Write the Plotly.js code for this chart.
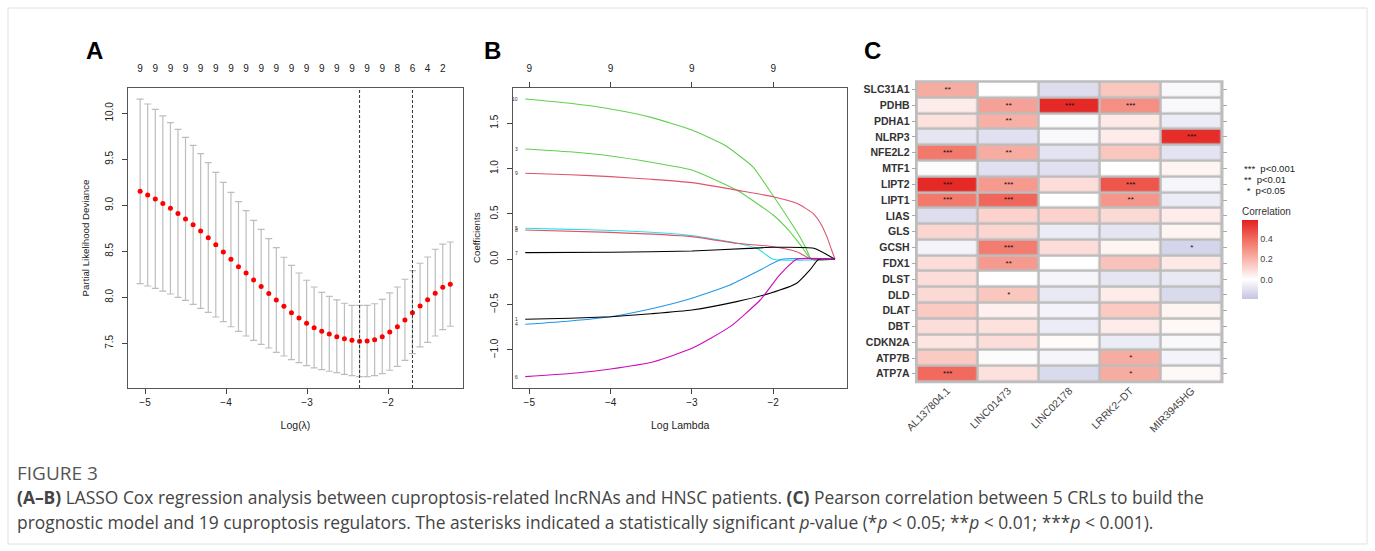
<!DOCTYPE html>
<html><head><meta charset="utf-8">
<script src="https://cdn.plot.ly/plotly-3.0.1.min.js"></script>
<style>html,body{margin:0;padding:0;background:#fff;}#chart{width:1375px;height:551px;}</style>
</head><body><div id="chart"></div>
<script>
// ---------- Panel A: cross-validation curve ----------
const logLambdaA = [-5.060,-4.967,-4.873,-4.780,-4.686,-4.593,-4.500,-4.406,-4.313,-4.219,-4.126,-4.033,-3.939,-3.846,-3.752,-3.659,-3.566,-3.472,-3.379,-3.285,-3.192,-3.099,-3.005,-2.912,-2.818,-2.725,-2.632,-2.538,-2.445,-2.351,-2.258,-2.165,-2.071,-1.978,-1.884,-1.791,-1.698,-1.604,-1.511,-1.417,-1.324,-1.231];
const devianceMean = [9.152,9.112,9.068,9.020,8.967,8.911,8.851,8.788,8.720,8.648,8.572,8.492,8.413,8.333,8.264,8.188,8.116,8.040,7.971,7.902,7.833,7.775,7.717,7.670,7.630,7.601,7.572,7.550,7.532,7.521,7.524,7.539,7.572,7.623,7.680,7.753,7.833,7.905,7.974,8.043,8.109,8.141];
const devianceUpper = [10.155,10.101,10.043,9.971,9.898,9.826,9.739,9.652,9.561,9.463,9.358,9.250,9.141,9.040,8.941,8.836,8.739,8.637,8.539,8.435,8.348,8.264,8.185,8.112,8.054,8.010,7.971,7.935,7.913,7.913,7.913,7.930,7.978,8.047,8.112,8.196,8.290,8.370,8.438,8.522,8.579,8.601];
const devianceLower = [8.148,8.123,8.098,8.068,8.036,8.000,7.967,7.924,7.880,7.837,7.786,7.735,7.680,7.630,7.579,7.532,7.489,7.449,7.402,7.362,7.322,7.289,7.257,7.232,7.213,7.196,7.181,7.163,7.148,7.137,7.137,7.148,7.170,7.207,7.250,7.315,7.387,7.460,7.511,7.579,7.648,7.685];
const nonzeroTopA = ['9','9','9','9','9','9','9','9','9','9','9','9','9','9','9','9','9','8','6','4','2'];
const lambdaMinLog = -2.351;
const lambda1seLog = -1.698;

// ---------- Panel B: coefficient paths ----------
const path10_x = [-5.05,-4.5,-4.0,-3.5,-3.0,-2.6,-2.25,-2.0,-1.85,-1.7,-1.6,-1.53,-1.24];
const path10_y = [1.767,1.72,1.657,1.565,1.426,1.26,1.02,0.70,0.50,0.29,0.13,0,0];
const path3_x = [-5.05,-4.5,-4.0,-3.5,-3.0,-2.45,-2.0,-1.8,-1.65,-1.53,-1.24];
const path3_y = [1.216,1.185,1.139,1.07,0.985,0.764,0.488,0.31,0.14,0,0];
const path9_x = [-5.05,-4.5,-4,-3.5,-3,-2.37,-2,-1.71,-1.51,-1.42,-1.34,-1.28,-1.24];
const path9_y = [0.948,0.932,0.911,0.882,0.845,0.75,0.69,0.617,0.507,0.40,0.25,0.10,0];
const path5_x = [-5.05,-4.5,-3.8,-3.06,-2.53,-2.2,-2.0,-1.24];
const path5_y = [0.342,0.33,0.312,0.268,0.194,0.121,0.0,0.0];
const path8_x = [-5.05,-4,-3,-2.45,-2,-1.71,-1.53,-1.24];
const path8_y = [0.323,0.297,0.25,0.176,0.139,0.084,0,0];
const path7_x = [-5.05,-4,-3,-2.3,-2,-1.5,-1.24];
const path7_y = [0.073,0.077,0.092,0.12,0.132,0.121,0];
const path4_x = [-5.05,-4.5,-4,-3.47,-3,-2.53,-2.16,-1.895,-1.24];
const path4_y = [-0.717,-0.68,-0.633,-0.54,-0.43,-0.283,-0.118,0,0];
const path1_x = [-5.05,-4.5,-4,-3.5,-3,-2.45,-2.04,-1.71,-1.55,-1.44,-1.24];
const path1_y = [-0.662,-0.65,-0.633,-0.6,-0.559,-0.467,-0.375,-0.265,-0.12,0,0];
const path6_x = [-5.05,-4.5,-4,-3.47,-3,-2.53,-2.16,-1.92,-1.71,-1.24];
const path6_y = [-1.294,-1.26,-1.209,-1.129,-0.982,-0.743,-0.449,-0.173,0,0];
const topTicksB = [-5,-4,-3,-2];
const topDfB = ['9','9','9','9'];

// ---------- Panel C: correlation heatmap ----------
const lncRNAs = ['AL137804.1','LINC01473','LINC02178','LRRK2−DT','MIR3945HG'];
const regulators = ['SLC31A1','PDHB','PDHA1','NLRP3','NFE2L2','MTF1','LIPT2','LIPT1','LIAS','GLS','GCSH','FDX1','DLST','DLD','DLAT','DBT','CDKN2A','ATP7B','ATP7A'];
const corr = [
  [0.22,0.00,-0.11,0.15,-0.02],
  [0.05,0.25,0.56,0.30,-0.02],
  [0.08,0.21,-0.01,0.06,-0.06],
  [-0.08,-0.10,-0.02,0.05,0.55],
  [0.36,0.22,-0.09,0.15,-0.09],
  [-0.01,-0.10,-0.10,0.00,0.03],
  [0.56,0.27,0.09,0.45,-0.03],
  [0.36,0.41,0.00,0.28,-0.06],
  [-0.11,0.12,0.12,0.10,0.05],
  [0.11,0.11,-0.06,-0.08,0.03],
  [-0.04,0.35,0.09,0.03,-0.14],
  [0.09,0.27,0.00,0.16,0.06],
  [0.09,0.00,-0.03,-0.08,-0.07],
  [0.10,0.15,-0.07,0.05,-0.12],
  [0.14,0.04,-0.04,0.14,0.03],
  [0.09,0.08,-0.06,0.05,0.02],
  [0.07,0.09,0.01,-0.06,-0.02],
  [0.14,-0.01,-0.03,0.22,-0.04],
  [0.40,0.08,-0.12,0.22,0.02]
];
const stars = [
  ['**','','','',''],
  ['','**','***','***',''],
  ['','**','','',''],
  ['','','','','***'],
  ['***','**','','',''],
  ['','','','',''],
  ['***','***','','***',''],
  ['***','***','','**',''],
  ['','','','',''],
  ['','','','',''],
  ['','***','','','*'],
  ['','**','','',''],
  ['','','','',''],
  ['','*','','',''],
  ['','','','',''],
  ['','','','',''],
  ['','','','',''],
  ['','','','*',''],
  ['***','','','*','']
];
const sigLegend = ['***  p<0.001','**  p<0.01',' *  p<0.05'];

// ---------- layout helpers ----------
const W = 1375, H = 551;
const PX = x => x / W;
const PY = y => 1 - y / H;
const FONT = 'Liberation Sans, Arial, Helvetica, sans-serif';

const traces = [];
// Panel A
traces.push({
  type:'scatter', mode:'markers', x:logLambdaA, y:devianceMean, xaxis:'x', yaxis:'y',
  marker:{color:'#ff0000', size:5},
  error_y:{type:'data', symmetric:false,
    array: devianceUpper.map((u,i)=>u-devianceMean[i]),
    arrayminus: devianceLower.map((l,i)=>devianceMean[i]-l),
    color:'#bdbdbd', thickness:1.2, width:3.5},
  showlegend:false, hoverinfo:'x+y'
});
// invisible carrier so the top (number of nonzero) axis is drawn
traces.push({type:'scatter', mode:'markers', x:logLambdaA, y:devianceMean, xaxis:'x2', yaxis:'y',
  marker:{opacity:0, size:1}, showlegend:false, hoverinfo:'skip'});
// Panel B
const paths = [
  ['10',path10_x,path10_y,'#61D04F'],
  ['3',path3_x,path3_y,'#61D04F'],
  ['9',path9_x,path9_y,'#DF536B'],
  ['5',path5_x,path5_y,'#28E2E5'],
  ['8',path8_x,path8_y,'#DF536B'],
  ['7',path7_x,path7_y,'#000000'],
  ['4',path4_x,path4_y,'#2297E6'],
  ['1',path1_x,path1_y,'#000000'],
  ['6',path6_x,path6_y,'#CD0BBC']
];
paths.forEach(p=>{
  traces.push({type:'scatter', mode:'lines', x:p[1], y:p[2], xaxis:'x3', yaxis:'y3',
    line:{color:p[3], width:1.1, shape:'spline', smoothing:0.5}, showlegend:false, name:p[0]});
});
traces.push({type:'scatter', mode:'markers', x:topTicksB, y:[0,0,0,0], xaxis:'x4', yaxis:'y3',
  marker:{opacity:0, size:1}, showlegend:false, hoverinfo:'skip'});
// Panel C
traces.push({
  type:'heatmap', x:lncRNAs, y:regulators, z:corr, text:stars, texttemplate:'%{text}',
  textfont:{size:8, color:'#111'}, xaxis:'x5', yaxis:'y5', xgap:2.5, ygap:2.5,
  zmin:-0.19, zmax:0.58,
  colorscale:[[0,'#c4c4e2'],[0.247,'#ffffff'],[0.506,'#f8b4aa'],[0.766,'#f26a5e'],[1,'#e3211f']],
  colorbar:{x:PX(1242), xanchor:'left', y:PY(299), yanchor:'bottom', len:95, lenmode:'pixels',
    thickness:16, thicknessmode:'pixels', outlinewidth:0, xpad:0, ypad:0,
    tickvals:[0,0.2,0.4], ticktext:['0.0','0.2','0.4'], ticks:'', tickfont:{size:9, color:'#444', family:FONT},
    title:{text:'Correlation', side:'top', font:{size:10, color:'#333', family:FONT}}},
  hoverinfo:'x+y+z'
});

const axA = {showgrid:false, zeroline:false, showline:true, mirror:true, linecolor:'#555', linewidth:1,
  ticks:'outside', ticklen:5, tickcolor:'#444', tickfont:{size:10, color:'#222', family:FONT}};

const annotations = [
  {text:'<b>A</b>', x:PX(94), y:PY(50), xref:'paper', yref:'paper', xanchor:'center', yanchor:'middle', showarrow:false, font:{size:24, color:'#000', family:FONT}},
  {text:'<b>B</b>', x:PX(492), y:PY(50), xref:'paper', yref:'paper', xanchor:'center', yanchor:'middle', showarrow:false, font:{size:24, color:'#000', family:FONT}},
  {text:'<b>C</b>', x:PX(872), y:PY(50), xref:'paper', yref:'paper', xanchor:'center', yanchor:'middle', showarrow:false, font:{size:24, color:'#000', family:FONT}}
];
paths.forEach(p=>{
  annotations.push({text:p[0], x:p[1][0], y:p[2][0], xref:'x3', yref:'y3', xanchor:'right', yanchor:'middle',
    xshift:-5, showarrow:false, font:{size:5, color:'#333', family:FONT}});
});
sigLegend.forEach((t,i)=>{
  annotations.push({text:t, x:PX(1242), y:PY(169 + i*10.5), xref:'paper', yref:'paper', xanchor:'left', yanchor:'middle',
    showarrow:false, font:{size:9.5, color:'#222', family:FONT}});
});
const CAPF = 'Open Sans, Noto Sans, sans-serif';
annotations.push({text:'FIGURE 3', x:PX(15), y:PY(473), xref:'paper', yref:'paper', xanchor:'left', yanchor:'middle', showarrow:false, font:{size:19, color:'#555', family:CAPF}});
annotations.push({text:'<b>(A–B)</b> LASSO Cox regression analysis between cuproptosis-related lncRNAs and HNSC patients. <b>(C)</b> Pearson correlation between 5 CRLs to build the', x:PX(15), y:PY(497), xref:'paper', yref:'paper', xanchor:'left', yanchor:'middle', showarrow:false, font:{size:17.4, color:'#444', family:CAPF}});
annotations.push({text:'prognostic model and 19 cuproptosis regulators. The asterisks indicated a statistically significant <i>p</i>-value (*<i>p</i> < 0.05; **<i>p</i> < 0.01; ***<i>p</i> < 0.001).', x:PX(15), y:PY(522), xref:'paper', yref:'paper', xanchor:'left', yanchor:'middle', showarrow:false, font:{size:17.4, color:'#444', family:CAPF}});

const layout = {
  width:W, height:H, margin:{l:0,r:0,t:0,b:0}, paper_bgcolor:'#fff', plot_bgcolor:'rgba(0,0,0,0)',
  font:{family:FONT, color:'#222'},
  showlegend:false,
  xaxis: Object.assign({}, axA, {domain:[PX(128),PX(463)], range:[-5.21,-1.074], anchor:'y', tickvals:[-5,-4,-3,-2],
    title:{text:'Log(λ)', font:{size:10.5, color:'#222', family:FONT}, standoff:14}}),
  yaxis: Object.assign({}, axA, {domain:[PY(388),PY(88)], range:[7.014,10.275], anchor:'x', tickvals:[7.5,8,8.5,9,9.5,10], tickformat:'.1f', tickangle:-90,
    ticklabelstandoff:5, title:{text:'Partial Likelihood Deviance', font:{size:9.7, color:'#222', family:FONT}, standoff:12}}),
  xaxis2: {overlaying:'x', side:'top', anchor:'y', range:[-5.21,-1.074], showgrid:false, zeroline:false, showline:false,
    tickvals: logLambdaA.filter((v,i)=>i%2===0), ticktext:nonzeroTopA, ticks:'outside', ticklen:11, tickcolor:'rgba(0,0,0,0)',
    tickfont:{size:10, color:'#222', family:FONT}},
  xaxis3: Object.assign({}, axA, {domain:[PX(513.3),PX(847)], range:[-5.197,-1.092], anchor:'y3', tickvals:[-5,-4,-3,-2],
    title:{text:'Log Lambda', font:{size:10.5, color:'#222', family:FONT}, standoff:14}}),
  yaxis3: Object.assign({}, axA, {domain:[PY(387.7),PY(87.7)], range:[-1.416,1.892], anchor:'x3', tickvals:[-1,-0.5,0,0.5,1,1.5], tickformat:'.1f', tickangle:-90,
    ticklabelstandoff:5, title:{text:'Coefficients', font:{size:9.7, color:'#222', family:FONT}, standoff:6}}),
  xaxis4: {overlaying:'x3', side:'top', anchor:'y3', range:[-5.197,-1.092], showgrid:false, zeroline:false, showline:false,
    tickvals:topTicksB, ticktext:topDfB, ticks:'outside', ticklen:5, tickcolor:'#444', ticklabelstandoff:6,
    tickfont:{size:10, color:'#222', family:FONT}},
  xaxis5: {domain:[PX(916.7),PX(1222)], anchor:'y5', type:'category', tickangle:-45, ticks:'', showline:false, showgrid:false, zeroline:false,
    tickfont:{size:10.5, color:'#444', family:FONT}},
  yaxis5: {domain:[PY(381.7),PY(81.7)], anchor:'x5', type:'category', autorange:'reversed', ticks:'outside', ticklen:4, tickcolor:'#aaa',
    mirror:'ticks', showline:false, showgrid:false, zeroline:false,
    tickfont:{size:10.5, color:'#333', family:FONT, weight:'bold'}},
  shapes:[
    {type:'line', xref:'x', yref:'y domain', x0:lambdaMinLog, x1:lambdaMinLog, y0:0, y1:1, line:{color:'#333', width:1, dash:'3px,2px'}},
    {type:'line', xref:'x', yref:'y domain', x0:lambda1seLog, x1:lambda1seLog, y0:0, y1:1, line:{color:'#333', width:1, dash:'3px,2px'}},
    {type:'rect', xref:'paper', yref:'paper', x0:PX(915), x1:PX(1223.5), y0:PY(383.3), y1:PY(80.2), fillcolor:'#bdbdbd', line:{width:0}, layer:'below'},
    {type:'rect', xref:'paper', yref:'paper', x0:PX(8), x1:PX(1367), y0:PY(544), y1:PY(8), fillcolor:'rgba(0,0,0,0)', line:{width:1, color:'#e0e0e0'}, layer:'below'}
  ],
  annotations: annotations
};

Plotly.newPlot('chart', traces, layout, {staticPlot:true, displayModeBar:false});
</script></body></html>
